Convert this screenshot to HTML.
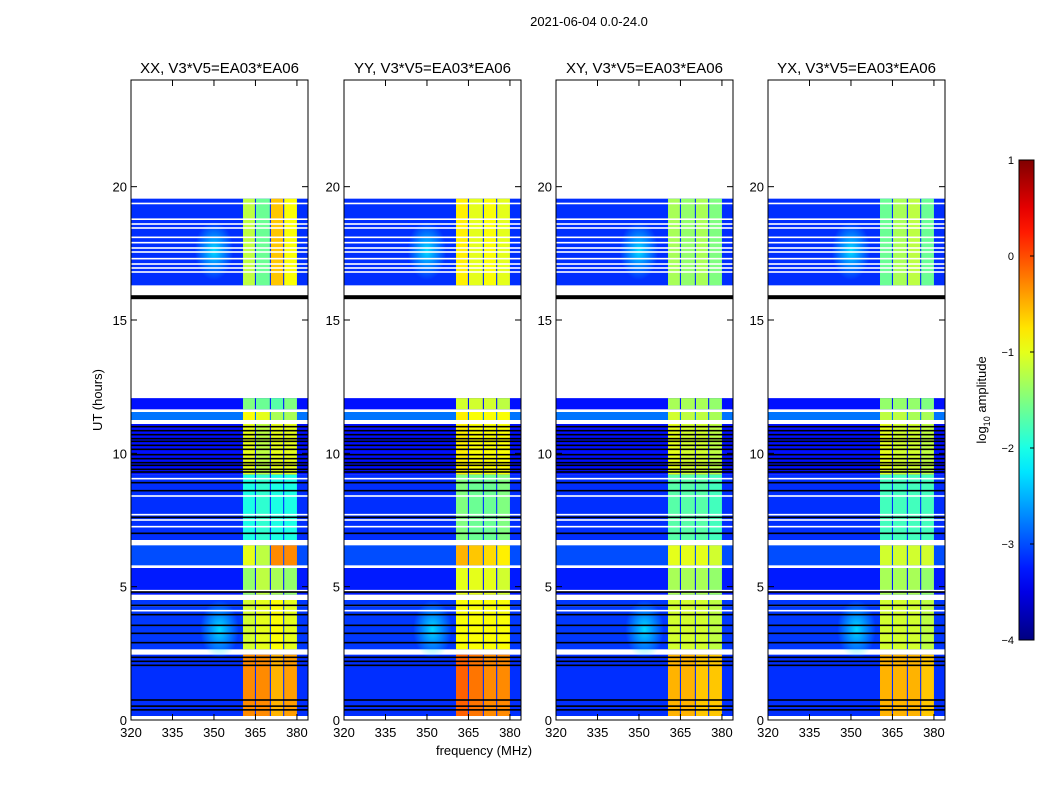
<!DOCTYPE html>
<html><head><meta charset="utf-8"><style>
body{margin:0;background:#fff;}
svg{display:block;font-family:"Liberation Sans",sans-serif;}
</style></head><body>
<svg id="fig" width="1050" height="800"></svg>
<script>
// ---- data ----
const panelTitles = ["XX, V3*V5=EA03*EA06","YY, V3*V5=EA03*EA06","XY, V3*V5=EA03*EA06","YX, V3*V5=EA03*EA06"];
const xTicks = [320,335,350,365,380];
const yTicks = [0,5,10,15,20];
const cbTicks = [1,0,-1,-2,-3,-4];
// time segments (hours)
const segStart = [16.3, 11.65, 11.25, 9.2, 6.75, 5.8, 4.7, 2.65, 0.15];
const segEnd   = [19.55,12.07, 11.55, 11.1, 9.2, 6.55, 5.7, 4.5, 2.45];
const segNoise = [-3.15, -3.3, -2.8, -3.3, -3.15, -3.0, -3.25, -3.1, -3.15];
// RFI column levels [panel][segment][col]
const rfiXX = [[-1.2,-1.6,-0.6,-0.9],[-1.5,-1.6,-1.7,-1.5],[-0.9,-1.0,-1.3,-1.3],[-1.0,-1.2,-1.0,-1.0],[-2.0,-1.9,-2.0,-2.0],[-1.0,-1.2,-0.3,-0.3],[-1.4,-1.2,-1.3,-1.4],[-1.1,-1.0,-0.9,-1.0],[-0.3,-0.3,-0.5,-0.4]];
const rfiYY = [[-0.8,-1.0,-0.9,-1.0],[-1.1,-1.1,-1.1,-1.2],[-0.8,-0.9,-0.9,-0.9],[-0.8,-0.9,-0.9,-0.9],[-1.5,-1.6,-1.6,-1.5],[-0.5,-0.6,-0.7,-0.8],[-1.0,-1.0,-1.0,-1.1],[-0.9,-0.9,-0.9,-0.9],[-0.1,-0.2,-0.3,-0.3]];
const rfiXY = [[-1.3,-1.4,-1.3,-1.5],[-1.3,-1.3,-1.3,-1.4],[-1.1,-1.2,-1.2,-1.3],[-1.0,-1.1,-1.1,-1.2],[-1.7,-1.7,-1.7,-1.8],[-1.0,-1.0,-1.0,-1.1],[-1.3,-1.3,-1.3,-1.4],[-1.1,-1.1,-1.1,-1.2],[-0.5,-0.5,-0.6,-0.6]];
const rfiYX = [[-1.6,-1.3,-1.2,-1.6],[-1.4,-1.4,-1.4,-1.5],[-1.2,-1.2,-1.3,-1.3],[-1.0,-1.1,-1.1,-1.2],[-1.8,-1.8,-1.8,-1.8],[-1.1,-1.1,-1.1,-1.1],[-1.3,-1.3,-1.3,-1.4],[-1.1,-1.1,-1.1,-1.2],[-0.5,-0.5,-0.5,-0.6]];
const colStart = [360.5, 365.2, 370.6, 375.4];
const colEnd   = [364.8, 370.2, 375.0, 380.0];
const whiteLines = [19.37,18.78,18.6,18.45,18.1,17.9,17.7,17.55,17.3,17.1,16.95,16.8,9.05,8.4,7.7,7.5,7.25,4.85,4.3,4.1];
const blackLines = [15.9,11.0,10.85,10.7,10.55,10.45,10.3,10.15,9.95,9.8,9.65,9.55,9.4,9.3,8.9,8.6,7.6,7.0,4.8,4.3,3.95,3.55,3.25,2.9,2.35,2.2,2.05,0.75,0.52,0.38];
const blobFreq = [350,352];
const blobTime = [17.6,3.4];
const blobLevel = [-2.2,-2.2];

// ---- helpers ----
const NS="http://www.w3.org/2000/svg";
const svg=document.getElementById('fig');
function mk(tag,attrs,parent){const e=document.createElementNS(NS,tag);for(const k in attrs)e.setAttribute(k,attrs[k]);(parent||svg).appendChild(e);return e;}
function jet(v){let x=(v+4)/5;x=Math.max(0,Math.min(1,x));const c=t=>Math.round(255*Math.max(0,Math.min(1,1.5-Math.abs(4*x-t))));return `rgb(${c(3)},${c(2)},${c(1)})`;}
const panelsX=[131,344,556,768], PW=177, PT=80, PB=720;
const rfiAll=[rfiXX,rfiYY,rfiXY,rfiYX];
const fmin=320,fmax=384,tmax=24;

mk('text',{x:589,y:26,'font-size':13,'text-anchor':'middle'}).textContent="2021-06-04 0.0-24.0";

panelsX.forEach((x0,p)=>{
  const g=mk('g',{});
  
  
  const sx=f=>x0+(f-fmin)/(fmax-fmin)*PW;
  const sy=t=>PB-t/tmax*(PB-PT);
  const defs=mk('defs',{},g);
  const cp=mk('clipPath',{id:'cp'+p},defs);
  mk('rect',{x:x0,y:PT,width:PW,height:PB-PT},cp);
  const hm=mk('g',{'clip-path':`url(#cp${p})`},g);
  
  
  segStart.forEach((t0,s)=>{
    const t1=segEnd[s], y=sy(t1), h=sy(t0)-sy(t1);
    const r=mk('rect',{x:sx(fmin),y:y,width:sx(fmax)-sx(fmin),height:h,fill:jet(segNoise[s])},hm);
    
    
    colStart.forEach((f0,c)=>{
      const cr=mk('rect',{x:sx(f0),y:y,width:sx(colEnd[c])-sx(f0),height:h,fill:jet(rfiAll[p][s][c])},hm);
      
      
    });
  });
  blobFreq.forEach((f,i)=>{
    const gid='bg'+p+'_'+i;
    const rg=mk('radialGradient',{id:gid},defs);
    mk('stop',{offset:'0','stop-color':jet(blobLevel[i]),'stop-opacity':0.9},rg);
    mk('stop',{offset:'1','stop-color':jet(blobLevel[i]),'stop-opacity':0},rg);
    const e=mk('ellipse',{cx:sx(f),cy:sy(blobTime[i]),rx:sx(f+7)-sx(f),ry:sy(0)-sy(1.1),fill:`url(#${gid})`},hm);
    
    
  });
  whiteLines.forEach(t=>{
    const l=mk('rect',{x:x0,y:sy(t)-0.8,width:PW,height:1.6,fill:'#fff'},hm);
    
    
  });
  blackLines.forEach(t=>{
    const l=mk('rect',{x:x0,y:sy(t)-0.8,width:PW,height:t>15?4:1.6,fill:'#000'},hm);
    
    
  });
  const fr=mk('rect',{x:x0,y:PT,width:PW,height:PB-PT,fill:'none',stroke:'#000','stroke-width':1},g);
  
  
  xTicks.forEach(v=>{
    const X=sx(v);
    mk('line',{x1:X,x2:X,y1:PB,y2:PB-6,stroke:'#000'},g);
    mk('line',{x1:X,x2:X,y1:PT,y2:PT+6,stroke:'#000'},g);
    const t=mk('text',{x:X,y:PB+17,'font-size':13,'text-anchor':'middle'},g);
    t.textContent=v;
    
    
  });
  yTicks.forEach(v=>{
    const Y=sy(v);
    mk('line',{x1:x0,x2:x0+6,y1:Y,y2:Y,stroke:'#000'},g);
    mk('line',{x1:x0+PW,x2:x0+PW-6,y1:Y,y2:Y,stroke:'#000'},g);
    const t=mk('text',{x:x0-4,y:Y+5,'font-size':13,'text-anchor':'end'},g);
    t.textContent=v;
    
    
  });
  const tt=mk('text',{x:x0+PW/2,y:73,'font-size':15,'text-anchor':'middle'},g);
  tt.textContent=panelTitles[p];
  
  
});

const xl=mk('text',{x:484,y:755,'font-size':13,'text-anchor':'middle'});
xl.textContent="frequency (MHz)";


const yl=mk('text',{x:0,y:0,'font-size':13,'text-anchor':'middle',transform:'translate(102,400) rotate(-90)'});
yl.textContent="UT (hours)";



// colorbar
const cb=mk('g',{});


const cd=mk('defs',{},cb);
const lg=mk('linearGradient',{id:'cbg',x1:0,y1:1,x2:0,y2:0},cd);
for(let i=0;i<=20;i++){mk('stop',{offset:i/20,'stop-color':jet(-4+5*i/20)},lg);}
const CBX=1019,CBW=15,CBT=160,CBB=640;
mk('rect',{x:CBX,y:CBT,width:CBW,height:CBB-CBT,fill:'url(#cbg)',stroke:'#000'},cb);
const cy=v=>CBB-(v+4)/5*(CBB-CBT);
cbTicks.forEach(v=>{
  mk('line',{x1:CBX+CBW,x2:CBX+CBW-4,y1:cy(v),y2:cy(v),stroke:'#000'},cb);
  const t=mk('text',{x:CBX-5,y:cy(v)+4,'font-size':11,'text-anchor':'end'},cb);
  t.textContent=(v<0?'\u2212'+(-v):v);
  
  
});
const cl=mk('text',{x:0,y:0,'font-size':13,'text-anchor':'middle',transform:'translate(986,400) rotate(-90)'},cb);
cl.innerHTML='log<tspan font-size="9" dy="4">10</tspan><tspan dy="-4"> amplitude</tspan>';


</script>
</body></html>
